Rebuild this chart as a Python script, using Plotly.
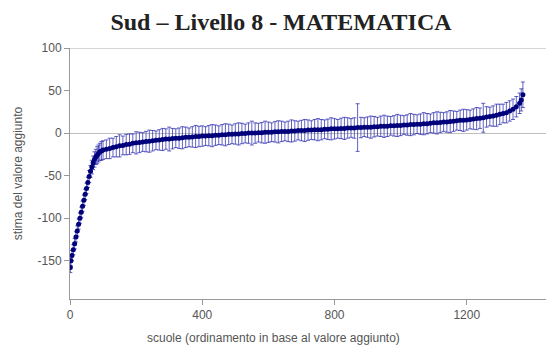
import plotly.graph_objects as go

# ---- data ----
ranks = [1, 3, 6, 10, 14, 18, 22, 26, 30, 34, 38, 42, 46, 50, 54, 58, 62, 66, 70, 74,
         78, 82, 86, 90, 95, 100,
         110, 120, 130, 140, 150, 160, 170, 180, 190, 200, 210, 220, 230, 240, 250,
         260, 270, 280, 290, 300, 310, 320, 330, 340, 350, 360, 370, 380, 390, 400,
         410, 420, 430, 440, 450, 460, 470, 480, 490, 500, 510, 520, 530, 540, 550,
         560, 570, 580, 590, 600, 610, 620, 630, 640, 650, 660, 670, 680, 690, 700,
         710, 720, 730, 740, 750, 760, 770, 780, 790, 800, 810, 820, 830, 840, 850,
         860, 870, 880, 890, 900, 910, 920, 930, 940, 950, 960, 970, 980, 990, 1000,
         1010, 1020, 1030, 1040, 1050, 1060, 1070, 1080, 1090, 1100, 1110, 1120, 1130,
         1140, 1150, 1160, 1170, 1180, 1190, 1200, 1210, 1220, 1230, 1240, 1250, 1260,
         1270, 1280, 1290, 1300, 1310, 1320, 1330, 1340, 1350, 1360, 1365, 1370]

estimates = [-158, -150, -144, -137, -130, -122, -115, -107, -100, -93, -86, -79, -72, -65,
             -58, -51, -45, -40, -35, -31, -28, -26, -24, -22, -21, -20,
             -19, -18, -17, -16, -15, -14.5, -13.5, -13, -12, -11.5, -11, -10.5, -10, -9.5, -9,
             -8.5, -8, -7.5, -7, -7, -6.5, -6, -6, -5.5, -5, -5, -4.5, -4, -4, -3.5,
             -3.5, -3, -3, -2.5, -2.5, -2, -2, -1.5, -1.5, -1, -1, -0.5, -0.5, 0, 0,
             0, 0.5, 0.5, 1, 1, 1, 1.5, 1.5, 2, 2, 2, 2.5, 2.5, 3, 3,
             3, 3.5, 3.5, 4, 4, 4, 4.5, 4.5, 5, 5, 5, 5.5, 5.5, 6, 6,
             6, 6.5, 6.5, 7, 7, 7, 7.5, 7.5, 8, 8, 8, 8.5, 8.5, 9, 9,
             9.5, 9.5, 10, 10, 10.5, 10.5, 11, 11, 11.5, 12, 12, 12.5, 13,
             13, 13.5, 14, 14.5, 15, 15, 15.5, 16, 16.5, 17, 17.5, 18, 19,
             19.5, 20, 21, 22, 23, 24, 26, 28, 31, 35, 39, 45]

errors = [6, 6, 6, 6, 6, 6, 6, 6, 6, 6, 6, 6, 6, 6, 6, 7, 7, 8, 8, 9,
          9, 10, 10, 10, 11, 11,
          11, 12, 11, 12, 13, 11, 12, 12, 11, 13, 12, 11, 12, 13, 12,
          11, 12, 13, 12, 14, 12, 11, 12, 13, 12, 11, 12, 13, 12, 12,
          11, 12, 13, 12, 11, 12, 13, 12, 11, 12, 13, 12, 11, 12, 14,
          12, 11, 12, 13, 12, 11, 12, 13, 12, 11, 12, 13, 12, 11, 12,
          13, 12, 11, 12, 13, 12, 11, 12, 13, 12, 11, 12, 13, 12, 11,
          12, 28, 12, 11, 12, 13, 12, 11, 12, 13, 12, 11, 12, 13, 12,
          11, 12, 13, 12, 11, 12, 13, 12, 11, 12, 13, 12, 11,
          12, 13, 12, 11, 12, 13, 12, 11, 12, 13, 12, 17, 12,
          11, 12, 13, 12, 11, 12, 12, 12, 12, 12, 13, 15]

y_tick_vals = [-150, -100, -50, 0, 50, 100]
y_tick_text = ["-150", "-100", "-50", "0", "50", "100"]
x_tick_vals = [0, 400, 800, 1200]
x_tick_text = ["0", "400", "800", "1200"]

fig = go.Figure()
fig.add_trace(go.Scatter(
    x=ranks, y=estimates, mode="markers",
    marker=dict(color="#00007a", size=5),
    error_y=dict(type="data", array=errors, visible=True,
                 color="rgba(30,30,170,0.7)", thickness=1, width=2),
    showlegend=False,
))

axis_font = dict(family="Liberation Sans, Arial, sans-serif", size=12, color="#555555")

W, H = 546, 345
fig.update_layout(
    width=W, height=H,
    margin=dict(l=62, r=0, t=40, b=54),
    paper_bgcolor="white", plot_bgcolor="white",
    title=dict(text="<b>Sud – Livello 8 - MATEMATICA</b>",
               font=dict(family="Liberation Serif, Times New Roman, serif", size=24, color="#222222"),
               x=273 / W, xanchor="center", y=1 - 14 / H, yanchor="middle"),
    xaxis=dict(range=[0, 1464], tickvals=x_tick_vals, ticktext=x_tick_text, automargin=False,
               showgrid=False, zeroline=False, showline=True, linecolor="#999999", linewidth=1,
               ticks="outside", ticklen=5, tickcolor="#999999", tickfont=axis_font),
    yaxis=dict(range=[-195, 100], tickvals=y_tick_vals, ticktext=y_tick_text, automargin=False,
               showgrid=False, zeroline=True, zerolinecolor="#c0c0c0", zerolinewidth=1,
               showline=True, linecolor="#999999", linewidth=1,
               ticks="outside", ticklen=5, tickcolor="#999999", tickfont=axis_font,
               title=dict(text="stima del valore aggiunto", font=axis_font, standoff=12)),
    shapes=[dict(type="line", xref="paper", yref="y", x0=0, x1=1, y0=100, y1=100,
                 line=dict(color="#aaaaaa", width=1))],
    annotations=[dict(text="scuole (ordinamento in base al valore aggiunto)",
                      xref="paper", yref="paper", x=(273 - 70) / 484, y=-39 / 251,
                      xanchor="center", yanchor="middle", showarrow=False, font=axis_font)],
)

fig.write_html("out.html")
